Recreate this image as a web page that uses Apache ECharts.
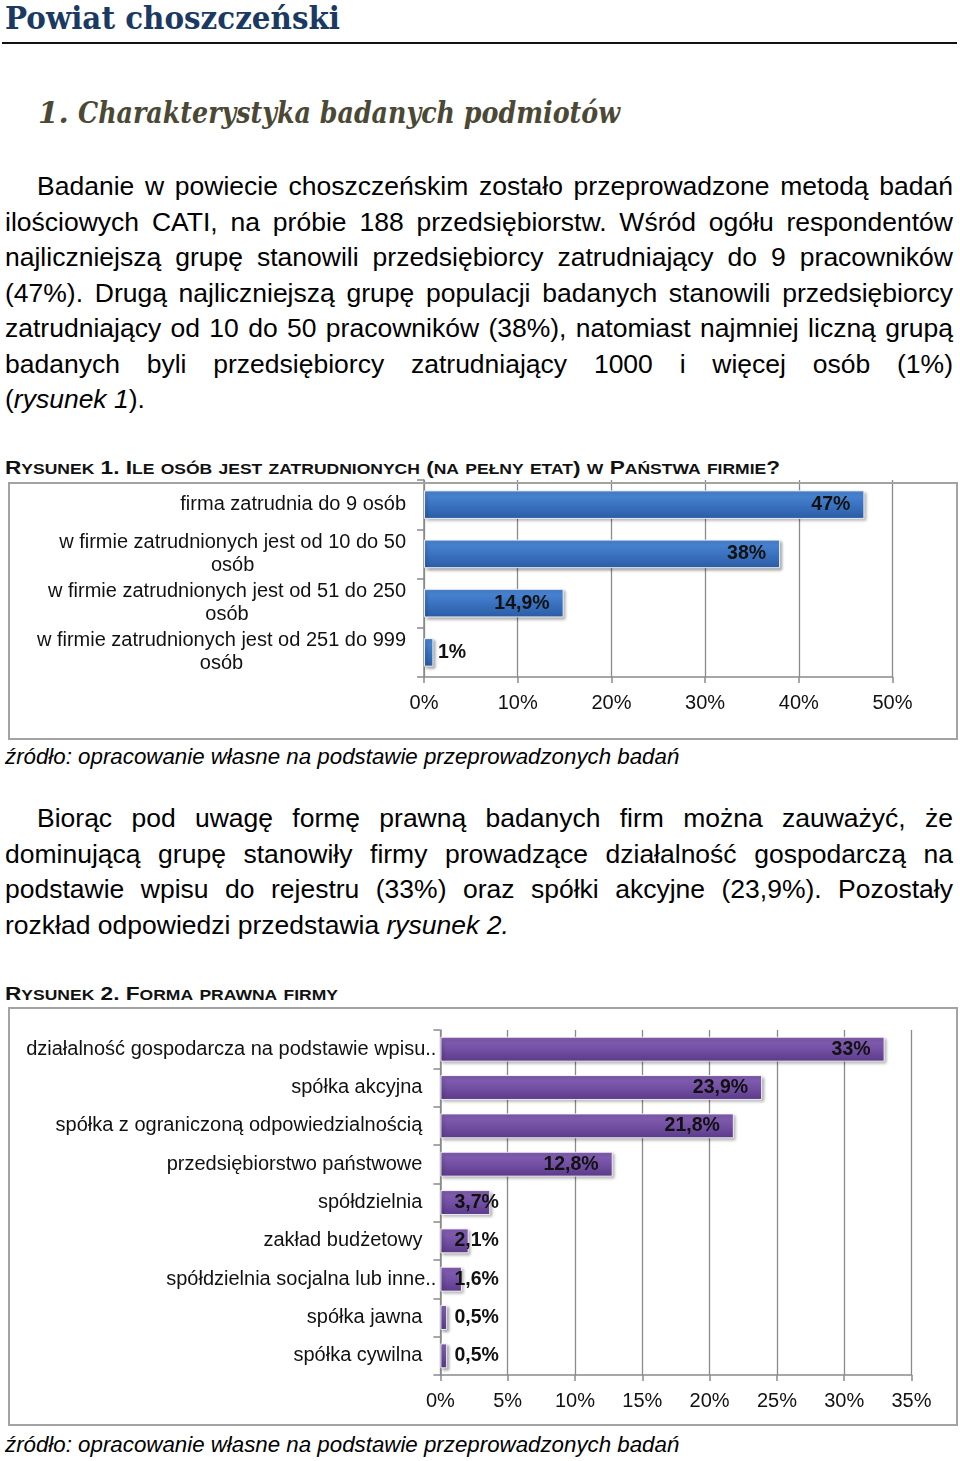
<!DOCTYPE html>
<html>
<head>
<meta charset="utf-8">
<script src="https://cdn.jsdelivr.net/npm/echarts@6/dist/echarts.min.js"></script>
<style>
  html, body { margin: 0; padding: 0; background: #fff; }
  body { width: 960px; height: 1461px; position: relative; overflow: hidden;
         font-family: "Liberation Sans", Arial, sans-serif; color: #000; }
  .abs { position: absolute; white-space: nowrap; }
  .title { left: 5px; top: 0px; font-family: "DejaVu Serif", serif; font-weight: bold;
           font-size: 32px; line-height: 36px; color: #1b3a63; transform-origin: left center; }
  .rule { left: 2px; top: 42px; width: 955px; height: 2px; background: #111; }
  .sub { top: 96px; font-family: "DejaVu Serif", serif; font-weight: bold; font-style: italic;
         font-size: 29.5px; line-height: 34px; color: #4b4935; transform-origin: left center; }
  .para { left: 5px; width: 948px; font-size: 26.5px; line-height: 35.5px; }
  .para .ln { text-align: justify; text-align-last: justify; white-space: nowrap; }
  .para .ln.first { padding-left: 32px; }
  .para .ln.last { text-align: left; text-align-last: left; }
  .cap { left: 5px; font-weight: bold; font-size: 18.6px;
         line-height: 22px; color: #111; transform-origin: left center; }
  .cap .sc { font-size: 14.4px; }
  .src { left: 5px; font-style: italic; font-size: 22.3px; line-height: 26px; }
  .frame { border: 2px solid #a3a3a3; box-sizing: border-box; pointer-events: none; }
</style>
</head>
<body>

<div class="abs title" id="title">Powiat choszczeński</div>
<div class="abs rule"></div>
<div class="abs sub" style="left:38px">1.</div>
<div class="abs sub" id="sub" style="left:78px">Charakterystyka badanych podmiotów</div>

<div class="abs para" style="top:169px">
  <div class="ln first">Badanie w powiecie choszczeńskim zostało przeprowadzone metodą badań</div>
  <div class="ln">ilościowych CATI, na próbie 188 przedsiębiorstw. Wśród ogółu respondentów</div>
  <div class="ln">najliczniejszą grupę stanowili przedsiębiorcy zatrudniający do 9 pracowników</div>
  <div class="ln">(47%). Drugą najliczniejszą grupę populacji badanych stanowili przedsiębiorcy</div>
  <div class="ln">zatrudniający od 10 do 50 pracowników (38%), natomiast najmniej liczną grupą</div>
  <div class="ln">badanych byli przedsiębiorcy zatrudniający 1000 i więcej osób (1%)</div>
  <div class="ln last">(<i>rysunek 1</i>).</div>
</div>

<div class="abs cap" id="cap1" style="top:457px">Rysunek 1. Ile osób jest zatrudnionych (na pełny etat) w Państwa firmie?</div>
<div class="abs" id="chart1" style="left:8px;top:478px;width:950px;height:262px"></div>
<div class="abs frame" style="left:8px;top:482px;width:950px;height:258px"></div>
<div class="abs src" style="top:744px">źródło: opracowanie własne na podstawie przeprowadzonych badań</div>

<div class="abs para" style="top:801px">
  <div class="ln first">Biorąc pod uwagę formę prawną badanych firm można zauważyć, że</div>
  <div class="ln">dominującą grupę stanowiły firmy prowadzące działalność gospodarczą na</div>
  <div class="ln">podstawie wpisu do rejestru (33%) oraz spółki akcyjne (23,9%). Pozostały</div>
  <div class="ln last">rozkład odpowiedzi przedstawia <i>rysunek 2.</i></div>
</div>

<div class="abs cap" id="cap2" style="top:983px">Rysunek 2. Forma prawna firmy</div>
<div class="abs" id="chart2" style="left:8px;top:1007px;width:950px;height:419px"></div>
<div class="abs frame" style="left:8px;top:1007px;width:950px;height:419px"></div>
<div class="abs src" style="top:1432px">źródło: opracowanie własne na podstawie przeprowadzonych badań</div>

<script>
// ---------- data ----------
const sizeCategories = [
  'firma zatrudnia do 9 osób',
  'w firmie zatrudnionych jest od 10 do 50\nosób',
  'w firmie zatrudnionych jest od 51 do 250\nosób',
  'w firmie zatrudnionych jest od 251 do 999\nosób'
];
const sizeValues = [47, 38, 14.9, 1];
const sizeAxisMax = 50;
const sizeAxisStep = 10;

const formCategories = [
  'działalność gospodarcza na podstawie wpisu..',
  'spółka akcyjna',
  'spółka z ograniczoną odpowiedzialnością',
  'przedsiębiorstwo państwowe',
  'spółdzielnia',
  'zakład budżetowy',
  'spółdzielnia socjalna lub inne..',
  'spółka jawna',
  'spółka cywilna'
];
const formValues = [33, 23.9, 21.8, 12.8, 3.7, 2.1, 1.6, 0.5, 0.5];
const formAxisMax = 35;
const formAxisStep = 5;

// ---------- manual small caps for captions ----------
function smallCaps(id) {
  const el = document.getElementById(id);
  const txt = el.textContent;
  let html = '';
  const re = /([a-ząćęłńóśźż]+)|([^a-ząćęłńóśźż]+)/g;
  let m;
  while ((m = re.exec(txt)) !== null) {
    if (m[1]) html += '<span class="sc">' + m[1].toUpperCase() + '</span>';
    else html += m[2];
  }
  el.innerHTML = html;
}
smallCaps('cap1');
smallCaps('cap2');

// ---------- text fitting (headings only) ----------
function fit(id, w) {
  const el = document.getElementById(id);
  const cur = el.getBoundingClientRect().width;
  if (cur > 0) el.style.transform = 'scaleX(' + (w / cur) + ')';
}
fit('title', 335);
fit('sub', 542);
fit('cap1', 775);
fit('cap2', 333);

// ---------- charts ----------
const FONT = '"Liberation Sans", Arial, sans-serif';
const pct = v => String(v).replace('.', ',') + '%';

function barSeries(values, colors, smallLimit, gap) {
  return {
    type: 'bar',
    barCategoryGap: gap,
    data: values.map(v => ({
      value: v,
      label: v < smallLimit
        ? { position: 'insideLeft', distance: 14 }
        : { position: 'insideRight', distance: 14 }
    })),
    itemStyle: {
      color: new echarts.graphic.LinearGradient(0, 0, 0, 1, [
        { offset: 0, color: colors[0] },
        { offset: 0.5, color: colors[1] },
        { offset: 1, color: colors[2] }
      ]),
      borderColor: 'rgba(255,255,255,0.85)',
      borderWidth: 1,
      shadowColor: 'rgba(0,0,0,0.35)',
      shadowBlur: 3,
      shadowOffsetX: 2,
      shadowOffsetY: 2
    },
    label: {
      show: true,
      formatter: p => pct(p.value),
      color: '#111',
      fontFamily: FONT,
      fontWeight: 'bold',
      fontSize: 19.5
    },
    animation: false
  };
}

function valueAxis(max, step) {
  return {
    type: 'value', min: 0, max: max, interval: step,
    axisLine: { show: true, lineStyle: { color: '#8a8a8a', width: 1.5 } },
    axisTick: { show: true, length: 6, lineStyle: { color: '#8a8a8a', width: 1.5 } },
    splitLine: { show: true, lineStyle: { color: '#8a8a8a', width: 1.3 } },
    axisLabel: { formatter: '{value}%', color: '#111', fontFamily: FONT, fontSize: 20, margin: 16 }
  };
}

// Chart 1
const c1 = echarts.init(document.getElementById('chart1'), null, { renderer: 'canvas' });
c1.setOption({
  animation: false,
  grid: { left: 416, right: 65.5, top: 2, bottom: 63, containLabel: false },
  xAxis: valueAxis(sizeAxisMax, sizeAxisStep),
  yAxis: {
    type: 'category', inverse: true, data: sizeCategories,
    axisLine: { show: true, lineStyle: { color: '#8a8a8a', width: 1.5 } },
    axisTick: { show: true, length: 7, lineStyle: { color: '#8a8a8a', width: 1.5 } },
    axisLabel: {
      margin: 18, color: '#111', fontFamily: FONT, fontSize: 20, lineHeight: 23,
      formatter: v => v.split('\n').map(l => '{c|' + l + '}').join('\n'),
      rich: { c: { align: 'center', fontFamily: FONT, fontSize: 20, lineHeight: 23, color: '#111' } }
    }
  },
  series: [barSeries(sizeValues, ['#4f8bd8', '#3a73c1', '#2b5ca4'], 5, '42%')]
});

// Chart 2
const c2 = echarts.init(document.getElementById('chart2'), null, { renderer: 'canvas' });
c2.setOption({
  animation: false,
  grid: { left: 432.4, right: 46.5, top: 23, bottom: 51, containLabel: false },
  xAxis: valueAxis(formAxisMax, formAxisStep),
  yAxis: {
    type: 'category', inverse: true, data: formCategories,
    axisLine: { show: true, lineStyle: { color: '#8a8a8a', width: 1.5 } },
    axisTick: { show: true, length: 7, lineStyle: { color: '#8a8a8a', width: 1.5 } },
    axisLabel: {
      margin: 4, color: '#111', fontFamily: FONT, fontSize: 20,
      formatter: v => v.endsWith('..') ? '{t|' + v + '}' : '{n|' + v + '}',
      rich: {
        n: { padding: [0, 14, 0, 0], fontFamily: FONT, fontSize: 20, color: '#111' },
        t: { fontFamily: FONT, fontSize: 20, color: '#111' }
      }
    }
  },
  series: [barSeries(formValues, ['#8763b6', '#7350a3', '#5c3a8a'], 5, '35%')]
});
</script>
</body>
</html>
